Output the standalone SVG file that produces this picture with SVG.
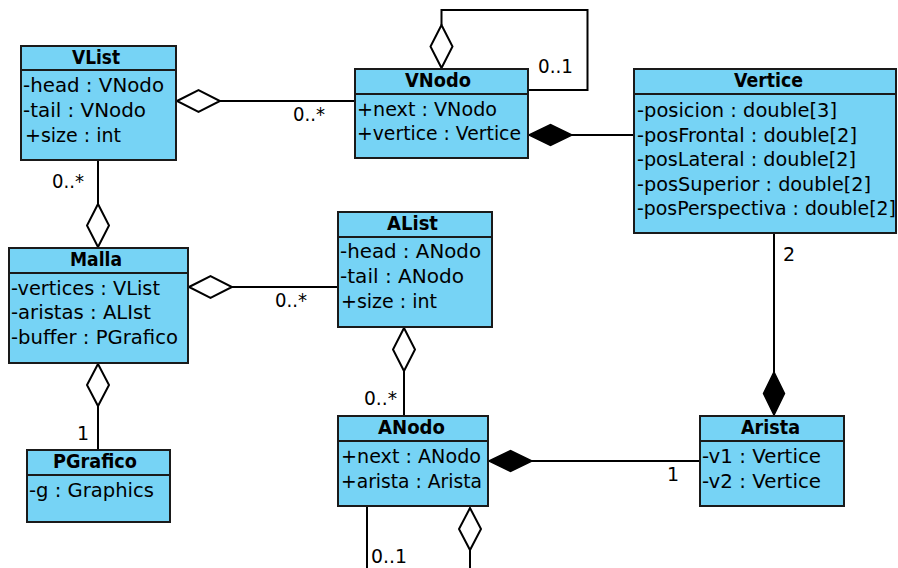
<svg xmlns="http://www.w3.org/2000/svg" width="898" height="568" viewBox="0 0 898 568">
<style>
.box{fill:#76d3f5;stroke:#1a1a1a;stroke-width:2}
.div{stroke:#1a1a1a;stroke-width:2}
.t{font-family:"DejaVu Sans",Verdana,sans-serif;font-size:19px;fill:#000}
.title{font-weight:bold;text-anchor:middle}
.ln{fill:none;stroke:#000;stroke-width:2}
.od{fill:#fff;stroke:#000;stroke-width:2}
.fd{fill:#000;stroke:#000;stroke-width:1.5}
</style>
<rect width="898" height="568" fill="#fff"/>
<g id="connectors">
  <line class="ln" x1="220" y1="101" x2="355" y2="101"/>
  <polygon class="od" points="177,101 198.5,90 220,101 198.5,112"/>
  <text class="t" x="293" y="121" textLength="32" lengthAdjust="spacingAndGlyphs">0..*</text>

  <path class="ln" d="M441.5,25 V10 H587.5 V90 H528"/>
  <polygon class="od" points="441.5,68 452.5,46.5 441.5,25 430.5,46.5"/>
  <text class="t" x="538" y="73" textLength="35" lengthAdjust="spacingAndGlyphs">0..1</text>

  <line class="ln" x1="572" y1="135" x2="634" y2="135"/>
  <polygon class="fd" points="529,135 550.5,124.5 572,135 550.5,145.5"/>

  <line class="ln" x1="98" y1="160" x2="98" y2="204"/>
  <polygon class="od" points="98,204 109,225.5 98,247 87,225.5"/>
  <text class="t" x="52" y="188" textLength="32" lengthAdjust="spacingAndGlyphs">0..*</text>

  <line class="ln" x1="232" y1="287" x2="338" y2="287"/>
  <polygon class="od" points="189,287 210.5,276 232,287 210.5,298"/>
  <text class="t" x="275" y="307" textLength="32" lengthAdjust="spacingAndGlyphs">0..*</text>

  <line class="ln" x1="404" y1="371" x2="404" y2="416"/>
  <polygon class="od" points="404,328 415,349.5 404,371 393,349.5"/>
  <text class="t" x="364" y="405" textLength="33" lengthAdjust="spacingAndGlyphs">0..*</text>

  <line class="ln" x1="98" y1="406" x2="98" y2="450"/>
  <polygon class="od" points="98,364 109,385 98,406 87,385"/>
  <text class="t" x="77" y="440">1</text>

  <line class="ln" x1="774" y1="233" x2="774" y2="372"/>
  <polygon class="fd" points="774,372 784.5,393.5 774,415 763.5,393.5"/>
  <text class="t" x="783" y="261">2</text>

  <line class="ln" x1="532" y1="461" x2="700" y2="461"/>
  <polygon class="fd" points="489,461 510.5,450.5 532,461 510.5,471.5"/>
  <text class="t" x="667" y="481">1</text>

  <line class="ln" x1="367" y1="506" x2="367" y2="568"/>
  <text class="t" x="371" y="563" textLength="36" lengthAdjust="spacingAndGlyphs">0..1</text>

  <line class="ln" x1="470" y1="550" x2="470" y2="568"/>
  <polygon class="od" points="470,508 481,529 470,550 459,529"/>
</g>

<g id="VList">
  <rect class="box" x="21" y="46" width="155" height="114"/>
  <line class="div" x1="21" y1="70" x2="176" y2="70"/>
  <text class="t title" x="96" y="64" textLength="48" lengthAdjust="spacingAndGlyphs">VList</text>
  <text class="t" x="23" y="92" textLength="141" lengthAdjust="spacingAndGlyphs">-head : VNodo</text>
  <text class="t" x="23" y="117" textLength="123" lengthAdjust="spacingAndGlyphs">-tail : VNodo</text>
  <text class="t" x="25" y="142" textLength="96" lengthAdjust="spacingAndGlyphs">+size : int</text>
</g>

<g id="VNodo">
  <rect class="box" x="355" y="69" width="173" height="89"/>
  <line class="div" x1="355" y1="94" x2="528" y2="94"/>
  <text class="t title" x="438" y="87" textLength="66" lengthAdjust="spacingAndGlyphs">VNodo</text>
  <text class="t" x="357" y="115.5" textLength="140" lengthAdjust="spacingAndGlyphs">+next : VNodo</text>
  <text class="t" x="357" y="140" textLength="164" lengthAdjust="spacingAndGlyphs">+vertice : Vertice</text>
</g>

<g id="Vertice">
  <rect class="box" x="634" y="69" width="262" height="164"/>
  <line class="div" x1="634" y1="94" x2="896" y2="94"/>
  <text class="t title" x="768.5" y="87" textLength="69" lengthAdjust="spacingAndGlyphs">Vertice</text>
  <text class="t" x="637" y="117" textLength="200" lengthAdjust="spacingAndGlyphs">-posicion : double[3]</text>
  <text class="t" x="637" y="142" textLength="220" lengthAdjust="spacingAndGlyphs">-posFrontal : double[2]</text>
  <text class="t" x="637" y="166" textLength="219" lengthAdjust="spacingAndGlyphs">-posLateral : double[2]</text>
  <text class="t" x="637" y="191" textLength="234" lengthAdjust="spacingAndGlyphs">-posSuperior : double[2]</text>
  <text class="t" x="637" y="215" textLength="259" lengthAdjust="spacingAndGlyphs">-posPerspectiva : double[2]</text>
</g>

<g id="Malla">
  <rect class="box" x="9" y="248" width="179" height="115"/>
  <line class="div" x1="9" y1="273" x2="188" y2="273"/>
  <text class="t title" x="96" y="266" textLength="52" lengthAdjust="spacingAndGlyphs">Malla</text>
  <text class="t" x="11" y="295" textLength="149" lengthAdjust="spacingAndGlyphs">-vertices : VList</text>
  <text class="t" x="11" y="319" textLength="140" lengthAdjust="spacingAndGlyphs">-aristas : ALIst</text>
  <text class="t" x="11" y="344" textLength="167" lengthAdjust="spacingAndGlyphs">-buffer : PGrafico</text>
</g>

<g id="AList">
  <rect class="box" x="338" y="212" width="154" height="115"/>
  <line class="div" x1="338" y1="237" x2="492" y2="237"/>
  <text class="t title" x="412.5" y="230" textLength="51" lengthAdjust="spacingAndGlyphs">AList</text>
  <text class="t" x="340" y="258" textLength="141" lengthAdjust="spacingAndGlyphs">-head : ANodo</text>
  <text class="t" x="340" y="283" textLength="124" lengthAdjust="spacingAndGlyphs">-tail : ANodo</text>
  <text class="t" x="341" y="308" textLength="96" lengthAdjust="spacingAndGlyphs">+size : int</text>
</g>

<g id="ANodo">
  <rect class="box" x="338" y="416" width="150" height="90"/>
  <line class="div" x1="338" y1="441" x2="488" y2="441"/>
  <text class="t title" x="411.5" y="434" textLength="67" lengthAdjust="spacingAndGlyphs">ANodo</text>
  <text class="t" x="341" y="463" textLength="140" lengthAdjust="spacingAndGlyphs">+next : ANodo</text>
  <text class="t" x="341" y="488" textLength="141" lengthAdjust="spacingAndGlyphs">+arista : Arista</text>
</g>

<g id="PGrafico">
  <rect class="box" x="27" y="450" width="143" height="72"/>
  <line class="div" x1="27" y1="475" x2="170" y2="475"/>
  <text class="t title" x="95" y="468" textLength="84" lengthAdjust="spacingAndGlyphs">PGrafico</text>
  <text class="t" x="29" y="497" textLength="125" lengthAdjust="spacingAndGlyphs">-g : Graphics</text>
</g>

<g id="Arista">
  <rect class="box" x="700" y="416" width="144" height="90"/>
  <line class="div" x1="700" y1="441" x2="844" y2="441"/>
  <text class="t title" x="770.5" y="434" textLength="59" lengthAdjust="spacingAndGlyphs">Arista</text>
  <text class="t" x="702" y="463" textLength="119" lengthAdjust="spacingAndGlyphs">-v1 : Vertice</text>
  <text class="t" x="702" y="488" textLength="119" lengthAdjust="spacingAndGlyphs">-v2 : Vertice</text>
</g>
</svg>
